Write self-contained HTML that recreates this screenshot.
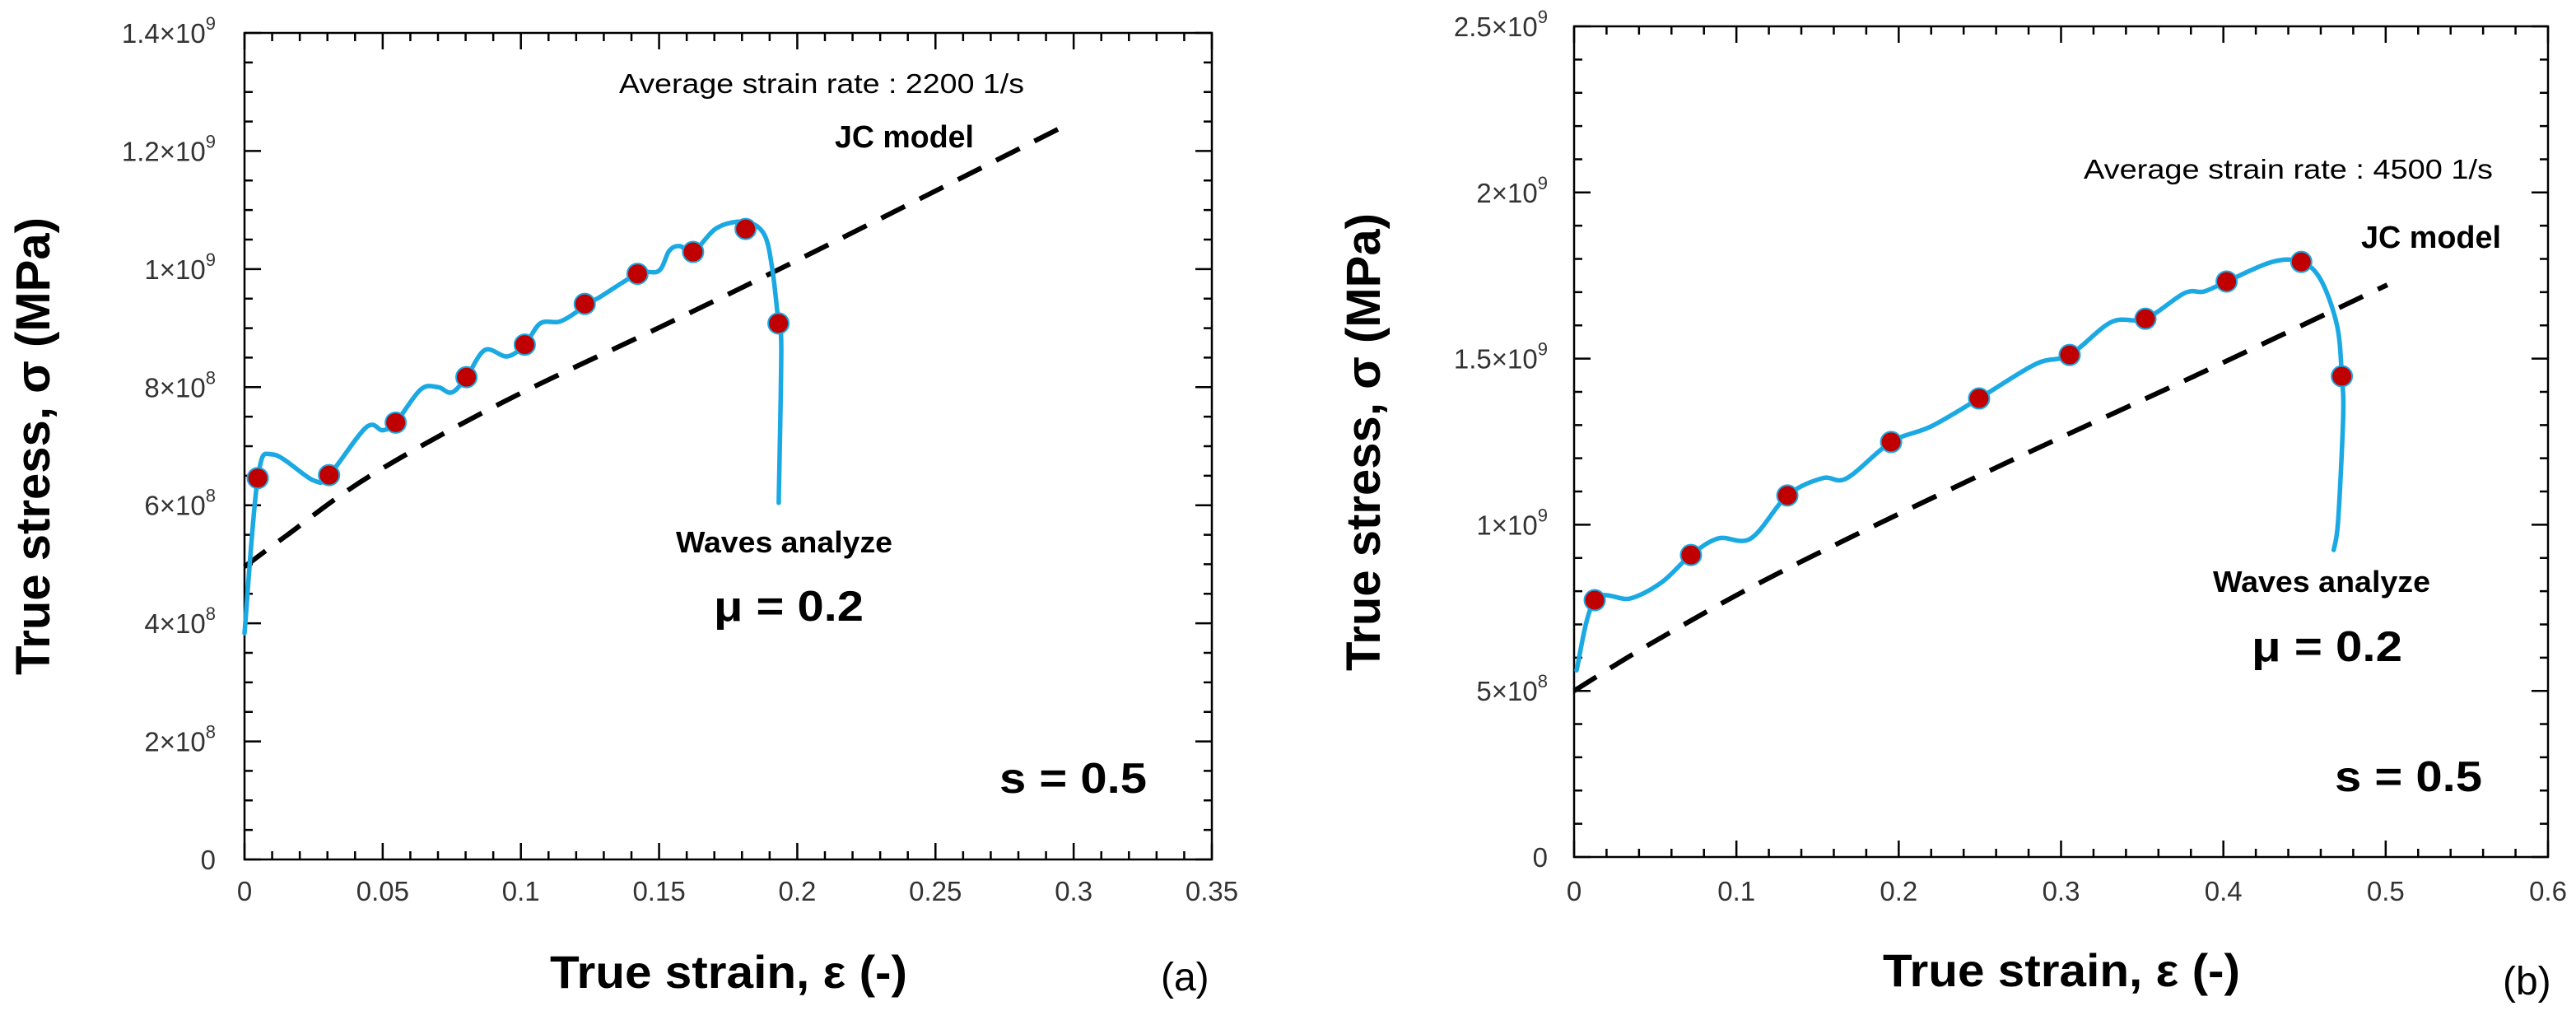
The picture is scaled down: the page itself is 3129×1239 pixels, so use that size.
<!DOCTYPE html>
<html><head><meta charset="utf-8"><style>
html,body{margin:0;padding:0;background:#fff;}
svg{display:block;}
text{font-family:"Liberation Sans",Arial,sans-serif;}
</style></head><body>
<svg id="fig" width="3129" height="1239" viewBox="0 0 3129 1239" xmlns="http://www.w3.org/2000/svg"></svg>
<script>
// ---- Chart (a) data ----
const aCurveStrain = [0,0.0048,0.0103,0.025,0.0306,0.044,0.050,0.0547,0.0637,0.070,0.075,0.0803,0.087,0.095,0.1014,0.107,0.114,0.12,0.1231,0.128,0.1422,0.1499,0.1537,0.1575,0.1623,0.171,0.1813,0.188,0.191,0.1932,0.1942,0.1933];
const aCurveStress = [3.83,6.46,6.86,6.42,6.51,7.32,7.27,7.40,7.96,8.0,7.91,8.17,8.63,8.52,8.72,9.08,9.11,9.27,9.41,9.51,9.92,9.97,10.31,10.39,10.29,10.70,10.80,10.59,9.99,9.08,8.63,6.04];
const aMarkStrain = [0.0048,0.0306,0.0547,0.0803,0.1014,0.1231,0.1422,0.1623,0.1813,0.1932];
const aMarkStress = [6.46,6.51,7.40,8.17,8.72,9.41,9.92,10.29,10.68,9.08];
const aJcStrain = [0,0.015,0.0455,0.0937,0.15,0.1966,0.2944];
const aJcStress = [4.96,5.48,6.5,7.75,9.01,10.07,12.37];
const aXTicks = ["0","0.05","0.1","0.15","0.2","0.25","0.3","0.35"];
const aYTicks = [["0",""],["2","8"],["4","8"],["6","8"],["8","8"],["1","9"],["1.2","9"],["1.4","9"]];
// ---- Chart (b) data ----
const bCurveStrain = [0.0015,0.0127,0.0345,0.054,0.072,0.089,0.109,0.1314,0.153,0.168,0.1953,0.220,0.2495,0.2845,0.3053,0.331,0.352,0.376,0.388,0.402,0.43,0.448,0.46,0.47,0.473,0.4738,0.4707,0.468];
const bCurveStress = [5.62,7.73,7.78,8.27,9.09,9.59,9.59,10.88,11.40,11.40,12.49,12.96,13.80,14.84,15.11,16.10,16.20,16.97,17.02,17.32,17.91,17.91,17.37,16.0,14.47,13.26,10.13,9.24];
const bMarkStrain = [0.0127,0.072,0.1314,0.1953,0.2495,0.3053,0.352,0.402,0.448,0.473];
const bMarkStress = [7.73,9.09,10.88,12.49,13.80,15.11,16.20,17.32,17.91,14.47];
const bJcStrain = [0,0.05,0.129,0.257,0.385,0.501];
const bJcStress = [5.0,6.5,8.62,11.65,14.54,17.22];
const bXTicks = ["0","0.1","0.2","0.3","0.4","0.5","0.6"];
const bYTicks = [["0",""],["5","8"],["1","9"],["1.5","9"],["2","9"],["2.5","9"]];

const NS = "http://www.w3.org/2000/svg";
const svg = document.getElementById('fig');
function mk(tag, attrs, parent){ const e=document.createElementNS(NS,tag); for(const k in attrs) e.setAttribute(k,attrs[k]); (parent||svg).appendChild(e); return e; }
function smooth(pts){
  let d = 'M'+pts[0][0].toFixed(1)+','+pts[0][1].toFixed(1);
  for(let i=0;i<pts.length-1;i++){
    const p0=pts[Math.max(0,i-1)], p1=pts[i], p2=pts[i+1], p3=pts[Math.min(pts.length-1,i+2)];
    const k=1/6;
    const c1=[p1[0]+(p2[0]-p0[0])*k, p1[1]+(p2[1]-p0[1])*k];
    const c2=[p2[0]-(p3[0]-p1[0])*k, p2[1]-(p3[1]-p1[1])*k];
    d += 'C'+c1[0].toFixed(1)+','+c1[1].toFixed(1)+' '+c2[0].toFixed(1)+','+c2[1].toFixed(1)+' '+p2[0].toFixed(1)+','+p2[1].toFixed(1);
  }
  return d;
}

function drawChart(cfg){
  const g = mk('g',{});
  
  
  const X = v => cfg.x0 + v/(cfg.xmax) * (cfg.x1 - cfg.x0);
  const Y = v => cfg.y0 - v/(cfg.ymax) * (cfg.y0 - cfg.y1);
  const fr = mk('rect',{x:cfg.x0,y:cfg.y1,width:cfg.x1-cfg.x0,height:cfg.y0-cfg.y1,fill:'none',stroke:'#000','stroke-width':2.5},g);
  
  
  let ticks='';
  const nx = Math.round(cfg.xmax/cfg.xminor);
  for(let i=0;i<=nx;i++){
    const x = X(i*cfg.xminor); const major = (i % cfg.xper)===0; const L = major?20:10;
    ticks += `M${x},${cfg.y0}v${-L}M${x},${cfg.y1}v${L}`;
  }
  const ny = Math.round(cfg.ymax/cfg.yminor);
  for(let i=0;i<=ny;i++){
    const y = Y(i*cfg.yminor); const major = (i % cfg.yper)===0; const L = major?20:10;
    ticks += `M${cfg.x0},${y}h${L}M${cfg.x1},${y}h${-L}`;
  }
  const tp = mk('path',{d:ticks,stroke:'#000','stroke-width':2.5,fill:'none'},g);
  
  
  cfg.xTicks.forEach((lab,i)=>{
    const t = mk('text',{x:X(i*cfg.xstep),y:1094,'font-size':33,fill:'#333','text-anchor':'middle'},g);
    t.textContent = lab;
    
    
  });
  cfg.yTicks.forEach((lab,i)=>{
    const y = Y(i*cfg.ystep);
    const t = mk('text',{x:cfg.labelRight,y:y+12,'font-size':33,fill:'#333','text-anchor':'end'},g);
    if(lab[1]===''){ t.textContent = lab[0]; }
    else {
      t.textContent = lab[0] + '\u00d710';
      const s = mk('tspan',{'font-size':22,dy:-16},t);
      s.textContent = lab[1];
    }
    
    
  });
  const jpts = cfg.jcS.map((s,i)=>[X(s),Y(cfg.jcV[i])]);
  const jc = mk('path',{d:smooth(jpts),stroke:'#000','stroke-width':6,fill:'none','stroke-dasharray':'32 20'},g);
  
  
  const cpts = cfg.cS.map((s,i)=>[X(s),Y(cfg.cV[i])]);
  const cv = mk('path',{d:smooth(cpts),stroke:'#1aa9e3','stroke-width':5.5,fill:'none','stroke-linejoin':'round','stroke-linecap':'round'},g);
  
  
  cfg.mS.forEach((s,i)=>{
    const c = mk('circle',{cx:X(s),cy:Y(cfg.mV[i]),r:12.5,fill:'#c00000',stroke:'#1aa9e3','stroke-width':2},g);
    
    
  });
}
drawChart({name:'chart-a',x0:297,x1:1472,y0:1044,y1:40,xmax:0.35,ymax:14,xminor:0.01,xper:5,xstep:0.05,yminor:0.5,yper:4,ystep:2,
  xTicks:aXTicks,yTicks:aYTicks,labelRight:262,cS:aCurveStrain,cV:aCurveStress,mS:aMarkStrain,mV:aMarkStress,jcS:aJcStrain,jcV:aJcStress});
drawChart({name:'chart-b',x0:1912,x1:3095,y0:1041,y1:32,xmax:0.6,ymax:25,xminor:0.02,xper:5,xstep:0.1,yminor:1,yper:5,ystep:5,
  xTicks:bXTicks,yTicks:bYTicks,labelRight:1880,cS:bCurveStrain,cV:bCurveStress,mS:bMarkStrain,mV:bMarkStress,jcS:bJcStrain,jcV:bJcStress});
</script>
<svg style="position:absolute;left:0;top:0" width="3129" height="1239" xmlns="http://www.w3.org/2000/svg">
  <g font-family="Liberation Sans, Arial, sans-serif">
    <text transform="translate(60,542) rotate(-90)" text-anchor="middle" font-size="58" font-weight="bold" textLength="556" lengthAdjust="spacingAndGlyphs">True stress, σ (MPa)</text>
    <text x="668" y="1200" font-size="56" font-weight="bold" textLength="434" lengthAdjust="spacingAndGlyphs">True strain, ε (-)</text>
    <text x="1410" y="1203" font-size="48">(a)</text>
    <text x="752" y="113" font-size="33" textLength="492" lengthAdjust="spacingAndGlyphs">Average strain rate : 2200 1/s</text>
    <text x="1014" y="179" font-size="38" font-weight="bold" textLength="169" lengthAdjust="spacingAndGlyphs">JC model</text>
    <text x="821" y="671" font-size="36" font-weight="bold" textLength="263" lengthAdjust="spacingAndGlyphs">Waves analyze</text>
    <text x="867" y="754" font-size="52" font-weight="bold" textLength="182" lengthAdjust="spacingAndGlyphs">μ = 0.2</text>
    <text x="1214" y="963" font-size="52" font-weight="bold" textLength="179" lengthAdjust="spacingAndGlyphs">s = 0.5</text>
    <text transform="translate(1676,537) rotate(-90)" text-anchor="middle" font-size="58" font-weight="bold" textLength="556" lengthAdjust="spacingAndGlyphs">True stress, σ (MPa)</text>
    <text x="2287" y="1198" font-size="56" font-weight="bold" textLength="434" lengthAdjust="spacingAndGlyphs">True strain, ε (-)</text>
    <text x="3040" y="1208" font-size="48">(b)</text>
    <text x="2531" y="217" font-size="33" textLength="497" lengthAdjust="spacingAndGlyphs">Average strain rate : 4500 1/s</text>
    <text x="2868" y="301" font-size="38" font-weight="bold" textLength="170" lengthAdjust="spacingAndGlyphs">JC model</text>
    <text x="2688" y="719" font-size="36" font-weight="bold" textLength="264" lengthAdjust="spacingAndGlyphs">Waves analyze</text>
    <text x="2735" y="803" font-size="52" font-weight="bold" textLength="183" lengthAdjust="spacingAndGlyphs">μ = 0.2</text>
    <text x="2836" y="961" font-size="52" font-weight="bold" textLength="179" lengthAdjust="spacingAndGlyphs">s = 0.5</text>
  </g>
</svg>
</body></html>
